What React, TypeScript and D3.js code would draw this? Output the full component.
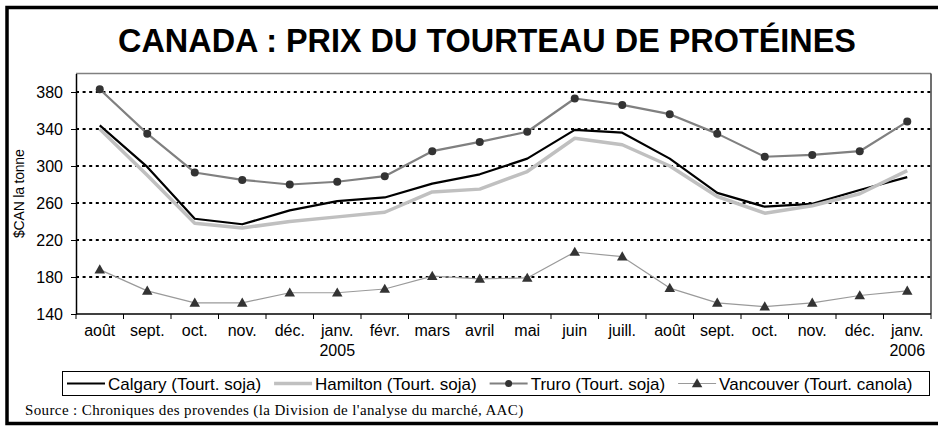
import React, { useRef, useEffect } from "react";
import * as d3 from "d3";

// mois (août 2004 -> janv. 2006)
const months = ["août", "sept.", "oct.", "nov.", "déc.", "janv.", "févr.", "mars", "avril", "mai", "juin", "juill.", "août", "sept.", "oct.", "nov.", "déc.", "janv."];
const years = ["", "", "", "", "", "2005", "", "", "", "", "", "", "", "", "", "", "", "2006"];

// $CAN la tonne
const calgary = [344, 299, 243, 237, 252, 262, 266, 281, 291, 308, 339, 336, 308, 271, 256, 259, 274, 288];
const hamilton = [340, 290, 238, 233, 240, 245, 250, 272, 275, 294, 330, 323, 300, 267, 249, 257, 270, 295];
const truro = [383, 335, 293, 285, 280, 283, 289, 316, 326, 337, 373, 366, 356, 335, 310, 312, 316, 348];
const vancouver = [188, 165, 152, 152, 163, 163, 167, 181, 178, 179, 207, 202, 168, 152, 148, 152, 160, 165];

const yTicks = [140, 180, 220, 260, 300, 340, 380];

const seriesNames = ["Calgary (Tourt. soja)", "Hamilton (Tourt. soja)", "Truro (Tourt. soja)", "Vancouver (Tourt. canola)"];

const SANS = "'Liberation Sans', Arial, sans-serif";
const SERIF = "'Liberation Serif', 'Times New Roman', serif";

export default function App() {
  const svgRef = useRef<SVGSVGElement | null>(null);

  useEffect(() => {
    const W = 938, H = 426;
    const left = 76, right = 931, top = 73.5, bottom = 314;

    const svg = d3.select(svgRef.current).attr("width", W).attr("height", H);
    svg.selectAll("*").remove();

    svg.append("rect").attr("width", W).attr("height", H).attr("fill", "#fff");
    // cadre extérieur
    svg.append("rect").attr("x", 7).attr("y", 7.5).attr("width", 945).attr("height", 416)
      .attr("fill", "none").attr("stroke", "#000").attr("stroke-width", 3.5);

    svg.append("text").attr("x", 487).attr("y", 52).attr("text-anchor", "middle")
      .attr("font-family", SANS).attr("font-weight", "bold").attr("font-size", 32.4)
      .text("CANADA : PRIX DU TOURTEAU DE PROTÉINES");

    const x = d3.scaleBand<number>().domain(months.map((_, i) => i)).range([left, right]).padding(0);
    const y = d3.scaleLinear().domain([140, 400]).range([bottom, top]);
    const cx = (i: number) => (x(i) as number) + x.bandwidth() / 2;

    // quadrillage pointillé
    svg.append("g").selectAll("line").data(yTicks.filter(t => t > 140)).join("line")
      .attr("x1", left).attr("x2", right).attr("y1", d => y(d)).attr("y2", d => y(d))
      .attr("stroke", "#000").attr("stroke-width", 2).attr("stroke-dasharray", "3,3.6");

    // bordure de la zone de tracé
    svg.append("line").attr("x1", left).attr("x2", right).attr("y1", top).attr("y2", top).attr("stroke", "#808080").attr("stroke-width", 1.5);
    svg.append("line").attr("x1", right).attr("x2", right).attr("y1", top).attr("y2", bottom).attr("stroke", "#404040").attr("stroke-width", 1.5);

    // axe Y
    const yAxis = svg.append("g").attr("transform", `translate(${left},0)`)
      .call(d3.axisLeft(y).tickValues(yTicks).tickSize(5).tickPadding(8).tickSizeOuter(0));
    yAxis.select(".domain").attr("stroke", "#000").attr("stroke-width", 1.5);
    yAxis.selectAll(".tick line").attr("stroke", "#000");
    yAxis.selectAll("text").attr("font-family", SANS).attr("font-size", 16).attr("fill", "#000");

    // axe X (graduations aux limites des catégories)
    svg.append("line").attr("x1", left).attr("x2", right).attr("y1", bottom).attr("y2", bottom).attr("stroke", "#000").attr("stroke-width", 1.5);
    const bounds = months.map((_, i) => x(i) as number).concat([right]);
    svg.append("g").selectAll("line").data(bounds).join("line")
      .attr("x1", d => d).attr("x2", d => d).attr("y1", bottom).attr("y2", bottom + 5)
      .attr("stroke", "#000").attr("stroke-width", 1);
    const xl = svg.append("g").attr("font-family", SANS).attr("font-size", 16).attr("text-anchor", "middle");
    xl.selectAll("text.m").data(months).join("text").attr("class", "m")
      .attr("x", (_, i) => cx(i)).attr("y", 336).text(d => d);
    xl.selectAll("text.yr").data(years).join("text").attr("class", "yr")
      .attr("x", (_, i) => cx(i)).attr("y", 356).text(d => d);

    svg.append("text").attr("transform", `translate(24,${(top + bottom) / 2}) rotate(-90)`)
      .attr("text-anchor", "middle").attr("font-family", SANS).attr("font-size", 14)
      .attr("letter-spacing", -0.2).text("$CAN la tonne");

    const line = d3.line<number>().x((_, i) => cx(i)).y(d => y(d));
    const styles = [
      { data: calgary, color: "#000", width: 2.2 },
      { data: hamilton, color: "#c0c0c0", width: 3.5 },
      { data: truro, color: "#808080", width: 2.2 },
      { data: vancouver, color: "#9a9a9a", width: 1.2 },
    ];
    styles.forEach(s => {
      svg.append("path").datum(s.data).attr("d", line).attr("fill", "none")
        .attr("stroke", s.color).attr("stroke-width", s.width).attr("stroke-linejoin", "round");
    });
    svg.append("g").selectAll("circle").data(truro).join("circle")
      .attr("cx", (_, i) => cx(i)).attr("cy", d => y(d)).attr("r", 4).attr("fill", "#333");
    const tri = d3.symbol().type(d3.symbolTriangle).size(48);
    svg.append("g").selectAll("path").data(vancouver).join("path")
      .attr("d", tri).attr("transform", (d, i) => `translate(${cx(i)},${y(d) + 0.8})`).attr("fill", "#333");

    // légende
    const lg = svg.append("g");
    lg.append("rect").attr("x", 62.5).attr("y", 371.5).attr("width", 867).attr("height", 24)
      .attr("fill", "#fff").attr("stroke", "#000").attr("stroke-width", 1);
    const ly = 383.5;
    const sampleW = 38, sampleGap = 3, itemGap = 13;
    let cur = 67;
    seriesNames.forEach((name, k) => {
      const s = styles[k];
      const x0 = cur, x1 = cur + sampleW;
      lg.append("line").attr("x1", x0).attr("x2", x1).attr("y1", ly).attr("y2", ly)
        .attr("stroke", s.color).attr("stroke-width", s.width);
      if (k === 2) lg.append("circle").attr("cx", (x0 + x1) / 2).attr("cy", ly).attr("r", 3.5).attr("fill", "#333");
      if (k === 3) lg.append("path").attr("d", tri).attr("transform", `translate(${(x0 + x1) / 2},${ly + 0.8})`).attr("fill", "#333");
      const t = lg.append("text").attr("x", x1 + sampleGap).attr("y", ly + 6)
        .attr("font-family", SANS).attr("font-size", 17).text(name);
      const tw = (t.node() as SVGTextElement).getComputedTextLength();
      cur = x1 + sampleGap + tw + itemGap;
    });

    svg.append("text").attr("x", 25).attr("y", 415).attr("font-family", SERIF).attr("font-size", 15)
      .attr("letter-spacing", 0.38)
      .text("Source : Chroniques des provendes (la Division de l'analyse du marché, AAC)");
  }, []);

  return (
    <div style={{ position: "absolute", left: 0, top: 0, width: 938, height: 426 }}>
      <svg ref={svgRef} style={{ display: "block" }} />
    </div>
  );
}
